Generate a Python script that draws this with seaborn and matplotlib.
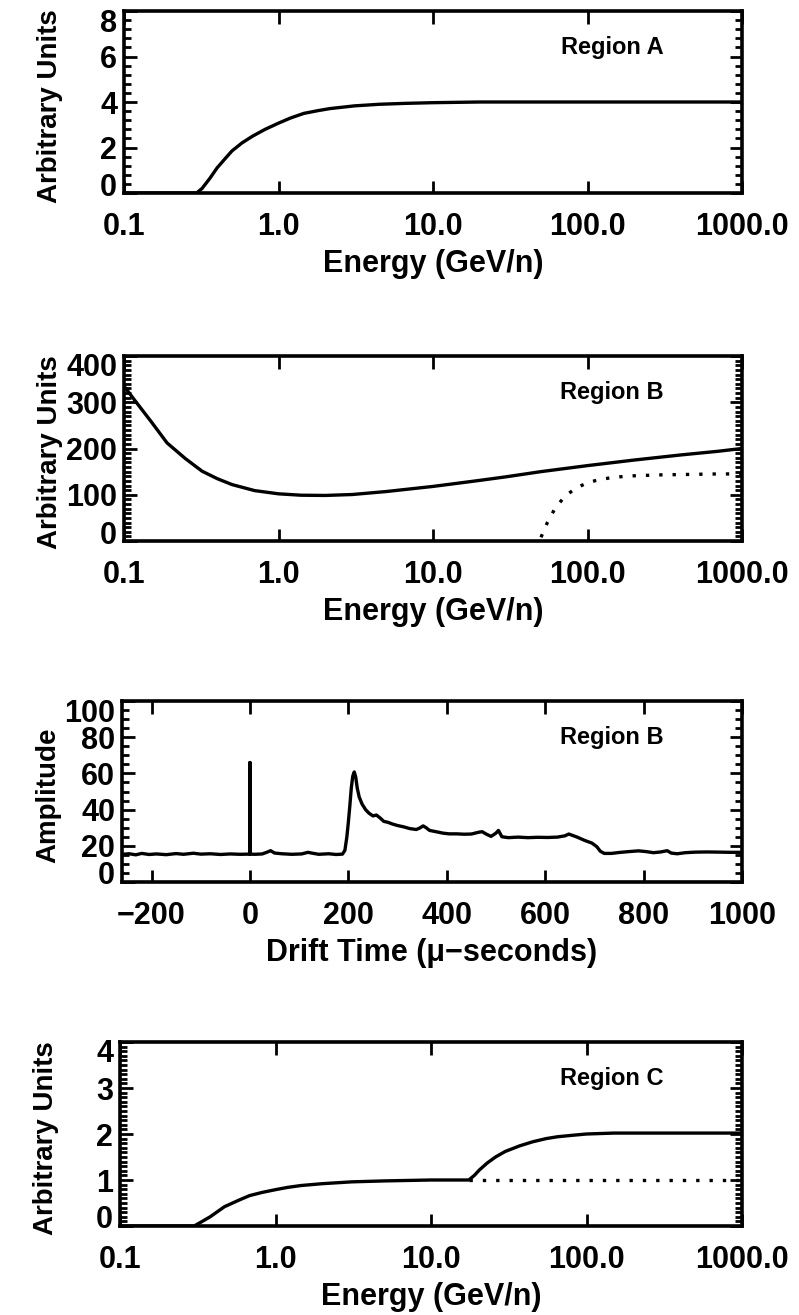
# Four stacked panels: energy response of regions A, B, C and a drift-time trace
import seaborn as sns
import matplotlib.pyplot as plt
from matplotlib.ticker import MultipleLocator, NullLocator
from matplotlib.transforms import ScaledTranslation

# ---- data ----
# Region A
energy_a = [0.1, 0.295, 0.32, 0.36, 0.40, 0.45, 0.50, 0.58, 0.68, 0.82, 1.0, 1.2,
            1.46, 1.8, 2.15, 3.1, 4.5, 6.6, 10, 20, 1000]
units_a = [0, 0, 0.2, 0.65, 1.1, 1.5, 1.85, 2.2, 2.5, 2.8, 3.07, 3.3,
           3.5, 3.62, 3.71, 3.83, 3.9, 3.94, 3.97, 4.0, 4.0]

# Region B (solid and dotted)
energy_b = [0.1, 0.12, 0.15, 0.19, 0.25, 0.32, 0.4, 0.5, 0.7, 1.0, 1.4, 2.0, 3.0,
            5.0, 10, 20, 30, 50, 100, 200, 400, 700, 1000]
units_b = [335, 300, 258, 212, 178, 151, 135, 122, 109, 102, 99, 98.5, 100.5,
           107, 118, 131, 139, 150, 163, 175, 186, 194, 200]
energy_b_dot = [50, 55, 62, 72, 85, 100, 120, 150, 200, 300, 460, 700, 1000]
units_b_dot = [8, 40, 72, 98, 115, 126, 133, 138, 141, 143, 144, 145, 145]

# Drift-time trace
drift_t = [-260, -245, -232, -220, -205, -190, -170, -150, -135, -115, -100, -80,
           -60, -40, -20, -1, 0, 0, 0, 10, 25, 35, 42, 50, 65, 85, 105, 118, 125,
           140, 160, 175, 188, 193, 197, 200, 203, 206, 209, 212, 215, 218, 222,
           228, 235, 242, 250, 257, 264, 272, 280, 290, 300, 312, 325, 338, 345,
           352, 358, 365, 378, 392, 405, 420, 435, 450, 465, 472, 480, 490, 500,
           505, 512, 525, 545, 565, 585, 605, 625, 640, 648, 655, 665, 680, 695,
           705, 712, 720, 735, 750, 770, 790, 805, 820, 835, 848, 856, 868, 885,
           905, 930, 955, 975, 1000]
drift_amp = [15.3, 15.6, 15.0, 15.8, 15.2, 15.5, 15.1, 15.7, 15.3, 15.9, 15.4, 15.6,
             15.2, 15.5, 15.3, 15.4, 15.4, 66, 15.4, 15.3, 15.5, 16.5, 17.3, 16.0,
             15.6, 15.3, 15.5, 16.4, 16.0, 15.3, 15.6, 15.2, 15.4, 17.5, 25, 33, 42,
             52, 58.5, 60.8, 58, 52, 47, 43, 40, 38, 36.5, 37, 35.5, 33.5, 33, 32,
             31.2, 30.5, 29.5, 29, 29.8, 31, 30, 28.5, 27.8, 27, 26.6, 26.6, 26.4,
             26.5, 27.5, 27.8, 26.5, 25.2, 27, 28.5, 25, 24.5, 24.8, 24.5, 24.7,
             24.6, 24.8, 25.5, 26.5, 25.8, 24.8, 23, 21.5, 19.5, 17, 15.8, 15.8,
             16.3, 16.8, 17.2, 16.8, 16.2, 16.6, 17.3, 16.0, 15.6, 16.2, 16.5,
             16.6, 16.5, 16.4, 16.4]

# Region C (solid and dotted)
energy_c = [0.1, 0.3, 0.33, 0.38, 0.47, 0.58, 0.68, 0.82, 1.0, 1.2, 1.46, 2.0, 3.1,
            5, 10, 17.5, 19, 20.5, 23, 26, 30, 37, 45, 55, 65, 80, 100, 150, 1000]
units_c = [0, 0, 0.08, 0.2, 0.42, 0.56, 0.66, 0.73, 0.79, 0.84, 0.88, 0.92, 0.96,
           0.98, 1.0, 1.0, 1.1, 1.22, 1.37, 1.5, 1.62, 1.74, 1.83, 1.9, 1.94, 1.97,
           2.0, 2.02, 2.02]
energy_c_dot = [17.5, 1000]
units_c_dot = [1, 1]

log_ticks = [0.1, 1, 10, 100, 1000]
log_labels = ['0.1', '1.0', '10.0', '100.0', '1000.0']
drift_ticks = [-200, 0, 200, 400, 600, 800, 1000]
drift_labels = ['\u2212200', '0', '200', '400', '600', '800', '1000']

sns.set_style('ticks')
plt.rcParams['font.family'] = ['Liberation Sans', 'DejaVu Sans']
plt.rcParams['font.weight'] = 'bold'
plt.rcParams['text.color'] = 'black'
plt.rcParams['axes.labelcolor'] = 'black'

W, H = 799, 1315
fig = plt.figure(figsize=(W / 100, H / 100), dpi=100)


def make_axes(top, bottom, left=124, right=742):
    return fig.add_axes([left / W, 1 - bottom / H, (right - left) / W, (bottom - top) / H])


def style(ax, yticks, yminor, xlabel, ylabel, region):
    ax.set_yticks(yticks)
    ax.set_yticklabels([str(v) for v in yticks])
    ax.set_ylim(yticks[0], yticks[-1])
    ax.yaxis.set_minor_locator(MultipleLocator(yminor))
    ax.tick_params(which='both', direction='in', top=True, right=True,
                   width=2, colors='black', labelsize=22)
    ax.tick_params(which='major', length=9)
    ax.tick_params(which='minor', length=5)
    ax.tick_params(axis='x', pad=14)
    ax.tick_params(axis='y', pad=5)
    for s in ax.spines.values():
        s.set_linewidth(2.6)
        s.set_color('black')
    for lab in ax.get_xticklabels() + ax.get_yticklabels():
        lab.set_fontweight('bold')
    # end labels on the y axis sit a little inside the frame
    ylabs = ax.get_yticklabels()
    ylabs[0].set_transform(ylabs[0].get_transform() + ScaledTranslation(0, 9 / 100, fig.dpi_scale_trans))
    ylabs[-1].set_transform(ylabs[-1].get_transform() + ScaledTranslation(0, -9 / 100, fig.dpi_scale_trans))
    ax.set_xlabel(xlabel, fontsize=22, fontweight='bold', labelpad=5)
    ax.set_ylabel(ylabel, fontsize=20, fontweight='bold')
    ax.yaxis.set_label_coords(-0.098, 0.48)
    ax.text(0.79, 0.80, region, transform=ax.transAxes, ha='center', va='center',
            fontsize=17, fontweight='bold', color='black')


def log_x(ax):
    ax.set_xscale('log')
    ax.set_xlim(0.1, 1000)
    ax.set_xticks(log_ticks)
    ax.set_xticklabels(log_labels)
    ax.xaxis.set_minor_locator(NullLocator())


line_kw = dict(color='black', linewidth=2.4, estimator=None, sort=False, legend=False)
dot_kw = dict(color='black', linewidth=2.4, linestyle=(0, (1, 3)),
              estimator=None, sort=False, legend=False)

# Panel 1: Region A
ax1 = make_axes(11, 193)
sns.lineplot(x=energy_a, y=units_a, ax=ax1, **line_kw)
log_x(ax1)
style(ax1, [0, 2, 4, 6, 8], 0.4, 'Energy (GeV/n)', 'Arbitrary Units', 'Region A')

# Panel 2: Region B
ax2 = make_axes(356, 541)
sns.lineplot(x=energy_b, y=units_b, ax=ax2, **line_kw)
sns.lineplot(x=energy_b_dot, y=units_b_dot, ax=ax2, **dot_kw)
log_x(ax2)
style(ax2, [0, 100, 200, 300, 400], 10, 'Energy (GeV/n)', 'Arbitrary Units', 'Region B')

# Panel 3: drift time trace
ax3 = make_axes(701, 882, left=122)
sns.lineplot(x=drift_t, y=drift_amp, ax=ax3, **line_kw)
ax3.set_xlim(-260, 1000)
ax3.set_xticks(drift_ticks)
ax3.set_xticklabels(drift_labels)
style(ax3, [0, 20, 40, 60, 80, 100], 5, 'Drift Time (\u03bc\u2212seconds)', 'Amplitude', 'Region B')

# Panel 4: Region C
ax4 = make_axes(1042, 1226, left=120)
sns.lineplot(x=energy_c, y=units_c, ax=ax4, **line_kw)
sns.lineplot(x=energy_c_dot, y=units_c_dot, ax=ax4, **dot_kw)
log_x(ax4)
style(ax4, [0, 1, 2, 3, 4], 0.1, 'Energy (GeV/n)', 'Arbitrary Units', 'Region C')

fig.savefig('out.png', dpi=100, facecolor='white')
